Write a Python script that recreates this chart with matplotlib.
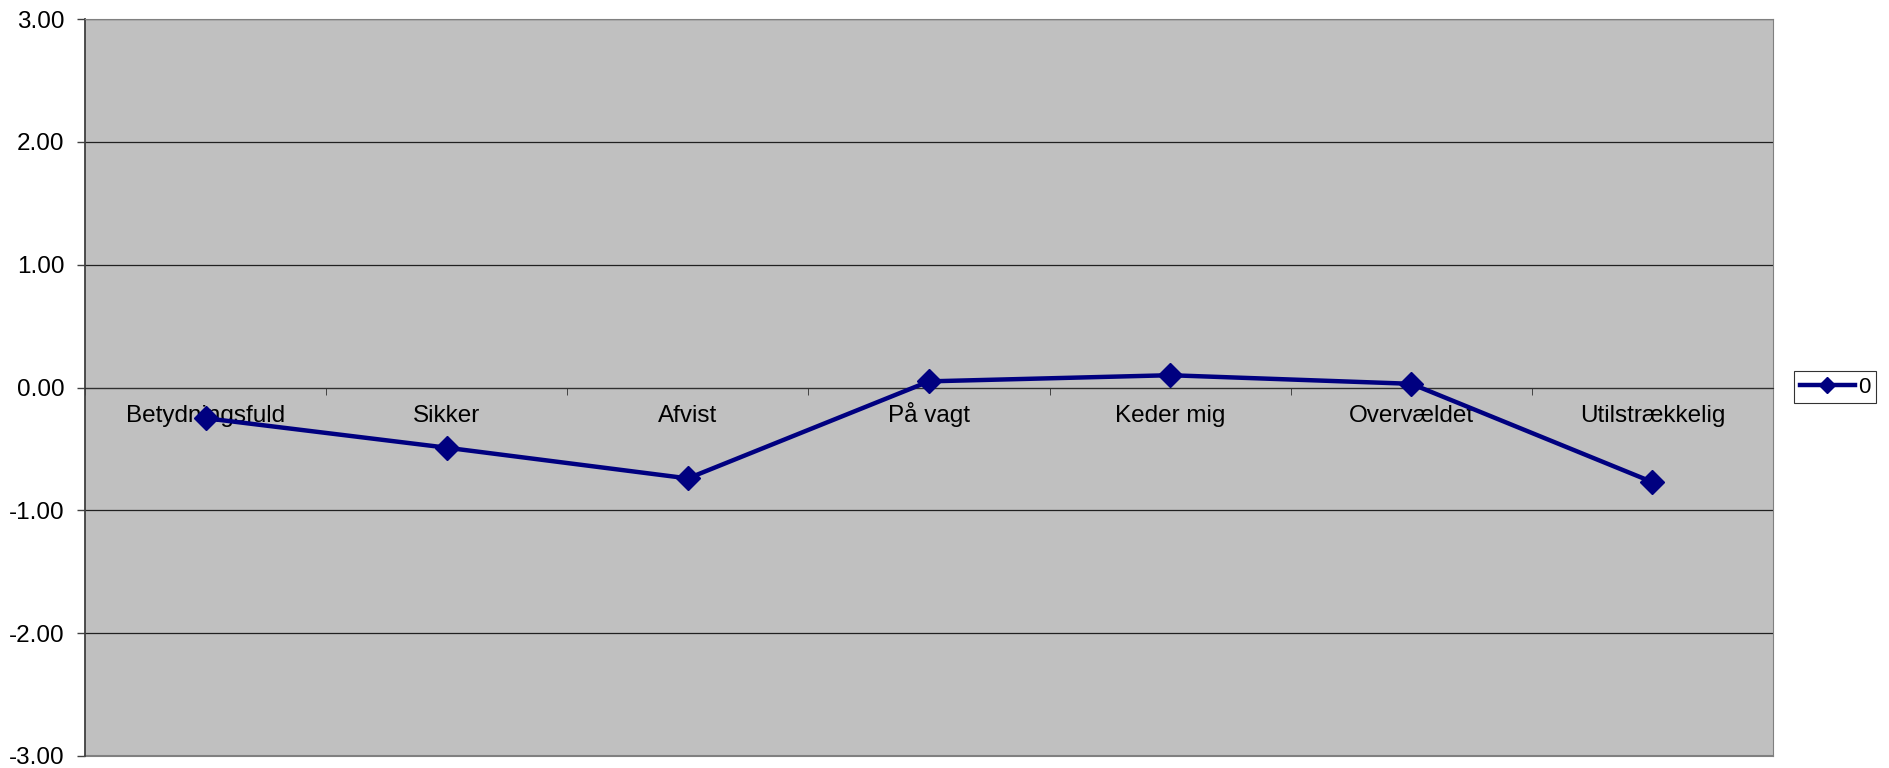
import numpy as np
import matplotlib.pyplot as plt
from matplotlib.ticker import FixedLocator, FormatStrFormatter

plt.rcParams['font.family'] = ['Liberation Sans', 'DejaVu Sans']

# Data
categories = ['Betydningsfuld', 'Sikker', 'Afvist', 'På vagt', 'Keder mig', 'Overvældet', 'Utilstrækkelig']
values = [-0.25, -0.49, -0.74, 0.05, 0.10, 0.03, -0.77]
series_name = '0'
y_ticks = [-3, -2, -1, 0, 1, 2, 3]

fig = plt.figure(figsize=(18.9, 7.68), dpi=100)
ax = fig.add_axes([85 / 1890, 12 / 768, 1688 / 1890, 737 / 768])
ax.set_facecolor('#c0c0c0')

x = np.arange(len(categories))
line, = ax.plot(x, values, color='#000080', lw=3.2, marker='D', markersize=12,
                label=series_name, zorder=3)

ax.set_xlim(-0.5, len(categories) - 0.5)
ax.set_ylim(-3, 3)

# y axis
ax.yaxis.set_major_locator(FixedLocator(y_ticks))
ax.yaxis.set_major_formatter(FormatStrFormatter('%.2f'))
ax.tick_params(axis='y', direction='out', length=6, width=1, color='#404040',
               labelsize=17.5, pad=9)
ax.yaxis.grid(True, color='#202020', lw=0.9)
ax.set_axisbelow(True)

# x axis sits at 0
ax.spines['bottom'].set_position(('data', 0))
ax.spines['bottom'].set_color('#303030')
ax.spines['left'].set_color('#404040')
ax.spines['left'].set_linewidth(1.3)
ax.spines['top'].set_color('#808080')
ax.spines['right'].set_color('#808080')
ax.axhline(-3, color='#808080', lw=1.5, clip_on=False)

ax.set_xticks(x)
ax.set_xticklabels(categories, va='baseline')
ax.set_xticks(np.arange(len(categories) + 1) - 0.5, minor=True)
ax.tick_params(axis='x', which='major', length=0, labelsize=17.5, pad=25)
ax.tick_params(axis='x', which='minor', direction='out', length=5, color='#303030')

leg = fig.legend(handles=[line], loc='upper left', bbox_to_anchor=(1794 / 1890, 1 - 371 / 768),
                 frameon=True, fancybox=False, edgecolor='black', fontsize=16,
                 handlelength=2.5, handletextpad=0.15, borderpad=0.25, borderaxespad=0,
                 markerscale=0.7)
leg.get_frame().set_linewidth(0.8)

fig.savefig('out.png', dpi=100, facecolor='white')
